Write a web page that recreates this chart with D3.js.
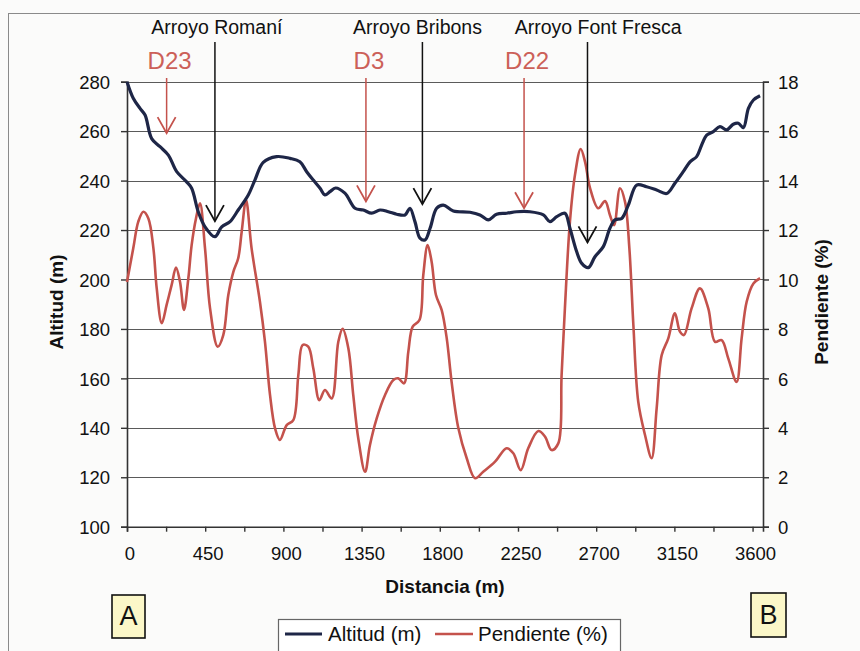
<!DOCTYPE html>
<html>
<head>
<meta charset="utf-8">
<script src="https://cdn.jsdelivr.net/npm/d3@7"></script>
<style>
  body { margin: 0; background: #fbfbfa; }
  svg { display: block; }
</style>
</head>
<body>
<svg width="860" height="651"></svg>
<script>
// Altitud (m): distancia / valor
var altDist = [0,36,75,104,142,190,238,286,343,372,410,449,506,545,593,640,698,736,784,861,
  938,995,1034,1072,1111,1139,1168,1200,1254,1312,1360,1408,1456,1504,1552,1600,1628,1657,1686,1715,
  1744,1782,1820,1878,1974,2031,2079,2127,2185,2242,2319,2396,2434,2473,2520,2549,2588,2617,2655,2693,
  2741,2779,2808,2847,2885,2933,2990,3048,3106,3153,3201,3240,3278,3307,3336,3374,3412,3451,3489,3518,
  3547,3576,3605,3643];
var altValues = [280,273.3,269.2,266.5,257,253.7,250.3,243.6,239.5,236.9,227.4,221.3,217.3,221.3,223.4,228.1,234.2,240.2,247.4,249.7,
  249,247.6,243.6,240.2,236.9,234.2,235.5,237,234.9,228.8,228.1,226.8,228.1,227.4,226.4,226.1,228.8,223.4,216.7,216,
  220.7,228.8,230.1,227.7,227.2,226.1,224.1,226.4,226.8,227.4,227.4,226.1,223.4,225.4,226.8,220.7,211.2,206.5,204.8,209.2,
  213.3,220.7,224.1,224.7,230.1,238.2,237.5,236.2,234.8,238.9,243.6,247.6,249.7,254.4,258.4,259.8,261.8,260.5,262.8,263.2,
  261.4,269.2,272.6,274.3];

// Pendiente (%): distancia / valor
var pendDist = [0,36,65,94,123,152,171,200,228,257,282,305,328,353,372,397,420,449,478,522,
  554,583,612,640,660,685,717,765,794,823,852,880,919,957,986,1011,1043,1072,1107,1139,
  1178,1216,1241,1274,1302,1331,1370,1398,1437,1485,1533,1561,1594,1619,1644,1683,1705,1730,1753,1778,
  1811,1840,1868,1907,1955,2003,2050,2118,2185,2223,2266,2309,2367,2405,2443,2482,2501,2520,2549,2578,
  2611,2636,2665,2712,2751,2779,2803,2837,2866,2891,2914,2942,2981,3019,3048,3077,3115,3153,3182,3205,
  3249,3297,3345,3384,3422,3460,3508,3537,3566,3605,3643];
var pendValues = [9.9,11.26,12.34,12.74,12.47,11.26,9.64,8.23,8.97,9.78,10.48,9.91,8.77,10.05,11.39,12.47,13.08,11.26,8.83,7.28,
  7.75,9.37,10.31,10.86,11.93,13.21,11.26,9.1,7.48,5.33,3.98,3.51,4.11,4.31,6.13,7.35,7.28,6.41,5.12,5.53,
  5.19,7.48,8.0,7.21,5.33,3.57,2.22,3.3,4.38,5.33,5.93,6.0,5.8,7.08,8.09,8.36,10.18,11.39,10.72,9.37,
  8.76,7.62,5.86,3.98,2.77,1.96,2.22,2.63,3.17,2.97,2.29,3.17,3.87,3.65,3.1,3.37,6.13,8.83,12.34,14.23,
  15.28,14.76,13.69,12.88,13.17,12.61,12.2,13.69,13.14,11.26,8.16,5.06,3.71,2.77,4.79,6.94,7.62,8.63,7.89,7.75,
  8.83,9.64,8.83,7.48,7.55,6.81,5.86,7.62,9.1,9.84,10.05];

// ejes
var xLabels = [0,450,900,1350,1800,2250,2700,3150,3600];
var xMinorTicks = d3.range(0, 3601, 225);
var altTicks = [100,120,140,160,180,200,220,240,260,280];
var pendTicks = [0,2,4,6,8,10,12,14,16,18];

// anotaciones: arroyos (negro) y puntos D (rojo)
var arroyoNames = ["Arroyo Romaní", "Arroyo Bribons", "Arroyo Font Fresca"];
var arroyoDist = [506, 1700, 2650];
var arroyoAlt = [223.6, 230.5, 215];
var arroyoLabelDist = [506, 1660, 2700];
var dNames = ["D23", "D3", "D22"];
var dDist = [228, 1375, 2285];
var dAlt = [259.2, 231.6, 228.8];

var FONT = "'Liberation Sans', Arial, sans-serif";
var BLUE = "#1e2647", RED = "#c4524c", RED_TXT = "#cc6058";

var svg = d3.select("svg").style("font-family", FONT);

var x = d3.scaleLinear().domain([0, 3660]).range([127, 763]);
var y = d3.scaleLinear().domain([100, 280]).range([526.7, 81.7]);
var y2 = d3.scaleLinear().domain([0, 18]).range([526.7, 81.7]);

// marco exterior
svg.append("rect")
  .attr("x", 8.5).attr("y", 13.5).attr("width", 880).attr("height", 700)
  .attr("fill", "none").attr("stroke", "#8a8a8a").attr("stroke-width", 1);

// area del grafico
svg.append("rect")
  .attr("x", x(0)).attr("y", y(280)).attr("width", x(3660) - x(0)).attr("height", y(100) - y(280))
  .attr("fill", "#fff");

// lineas de rejilla
svg.append("g").selectAll("line")
  .data(altTicks.slice(1))
  .enter().append("line")
  .attr("x1", x(0)).attr("x2", x(3660))
  .attr("y1", function(d){ return Math.round(y(d)) + 0.5; })
  .attr("y2", function(d){ return Math.round(y(d)) + 0.5; })
  .attr("stroke", "#5a5a5a").attr("stroke-width", 1.2);

// eje izquierdo
var gl = svg.append("g").attr("transform", "translate(" + x(0) + ",0)")
  .call(d3.axisLeft(y).tickValues(altTicks).tickSize(6).tickPadding(11));
// eje derecho
var gr = svg.append("g").attr("transform", "translate(" + x(3660) + ",0)")
  .call(d3.axisRight(y2).tickValues(pendTicks).tickSize(6).tickPadding(9));
// eje inferior
var gb = svg.append("g").attr("transform", "translate(0," + y(100) + ")")
  .call(d3.axisBottom(x).tickValues(xMinorTicks).tickSize(5).tickFormat(""));

[gl, gr, gb].forEach(function(g){
  g.select(".domain").attr("stroke", "#333").attr("stroke-width", 1.6);
  g.selectAll(".tick line").attr("stroke", "#333").attr("stroke-width", 1.4);
  g.selectAll(".tick text").attr("font-size", 18.5).attr("fill", "#111").attr("font-family", FONT);
});
gl.selectAll(".tick text").attr("dy", "0.36em");
gr.selectAll(".tick text").attr("dy", "0.36em");

svg.append("g").selectAll("text")
  .data(xLabels)
  .enter().append("text")
  .attr("x", function(d){ return x(d) + 3; })
  .attr("y", 560)
  .attr("text-anchor", "middle")
  .attr("font-size", 18.5).attr("fill", "#111")
  .text(function(d){ return d; });

// titulos de ejes
svg.append("text")
  .attr("transform", "translate(63,302) rotate(-90)")
  .attr("text-anchor", "middle").attr("font-weight", "bold").attr("font-size", 19)
  .attr("fill", "#111").text("Altitud (m)");
svg.append("text")
  .attr("transform", "translate(828,302) rotate(-90)")
  .attr("text-anchor", "middle").attr("font-weight", "bold").attr("font-size", 19)
  .attr("fill", "#111").text("Pendiente (%)");
svg.append("text")
  .attr("x", 445).attr("y", 593)
  .attr("text-anchor", "middle").attr("font-weight", "bold").attr("font-size", 19)
  .attr("fill", "#111").text("Distancia (m)");

// series
var pendLine = d3.line()
  .x(function(d, i){ return x(pendDist[i]); })
  .y(function(d){ return y2(d); })
  .curve(d3.curveCatmullRom.alpha(0.5));
svg.append("path")
  .datum(pendValues)
  .attr("d", pendLine)
  .attr("fill", "none").attr("stroke", RED).attr("stroke-width", 2.6)
  .attr("stroke-linejoin", "round");

var altLine = d3.line()
  .x(function(d, i){ return x(altDist[i]); })
  .y(function(d){ return y(d); })
  .curve(d3.curveCatmullRom.alpha(0.5));
svg.append("path")
  .datum(altValues)
  .attr("d", altLine)
  .attr("fill", "none").attr("stroke", BLUE).attr("stroke-width", 3.2)
  .attr("stroke-linejoin", "round");

// flechas
function arrow(g, px, top, tip, color, w){
  g.append("line").attr("x1", px).attr("x2", px).attr("y1", top).attr("y2", tip)
    .attr("stroke", color).attr("stroke-width", w);
  g.append("polyline")
    .attr("points", [px - 9, tip - 16, px, tip, px + 9, tip - 16].join(","))
    .attr("fill", "none").attr("stroke", color).attr("stroke-width", w + 0.3);
}

var ga = svg.append("g");
arroyoNames.forEach(function(name, i){
  var px = x(arroyoDist[i]);
  arrow(ga, px, 42, y(arroyoAlt[i]), "#111", 1.5);
  ga.append("text")
    .attr("x", x(arroyoLabelDist[i]) + 2).attr("y", 34)
    .attr("text-anchor", "middle").attr("font-size", 19.5).attr("fill", "#111")
    .text(name);
});

var gd = svg.append("g");
dNames.forEach(function(name, i){
  var px = x(dDist[i]);
  arrow(gd, px, 78, y(dAlt[i]), RED, 1.5);
  gd.append("text")
    .attr("x", px + 3).attr("y", 69)
    .attr("text-anchor", "middle").attr("font-size", 24).attr("fill", RED_TXT)
    .text(name);
});

// leyenda
var lg = svg.append("g");
lg.append("rect").attr("x", 278.5).attr("y", 619.5).attr("width", 342).attr("height", 50)
  .attr("fill", "#fff").attr("stroke", "#666").attr("stroke-width", 1.2);
lg.append("line").attr("x1", 285).attr("x2", 322).attr("y1", 634).attr("y2", 634)
  .attr("stroke", BLUE).attr("stroke-width", 3);
lg.append("text").attr("x", 328).attr("y", 641).attr("font-size", 20.5).attr("fill", "#111").text("Altitud (m)");
lg.append("line").attr("x1", 435).attr("x2", 473).attr("y1", 634).attr("y2", 634)
  .attr("stroke", RED).attr("stroke-width", 2.6);
lg.append("text").attr("x", 478).attr("y", 641).attr("font-size", 20.5).attr("fill", "#111").text("Pendiente (%)");

// cajas A y B
var boxes = [
  {label: "A", x: 112, y: 595, w: 33, h: 43},
  {label: "B", x: 751, y: 593, w: 35, h: 44}
];
var gbx = svg.append("g");
boxes.forEach(function(b){
  gbx.append("rect").attr("x", b.x).attr("y", b.y).attr("width", b.w).attr("height", b.h)
    .attr("fill", "#fbf7c8").attr("stroke", "#111").attr("stroke-width", 1.6);
  gbx.append("text").attr("x", b.x + b.w / 2).attr("y", b.y + b.h - 13)
    .attr("text-anchor", "middle").attr("font-size", 27).attr("fill", "#111").text(b.label);
});
</script>
</body>
</html>
